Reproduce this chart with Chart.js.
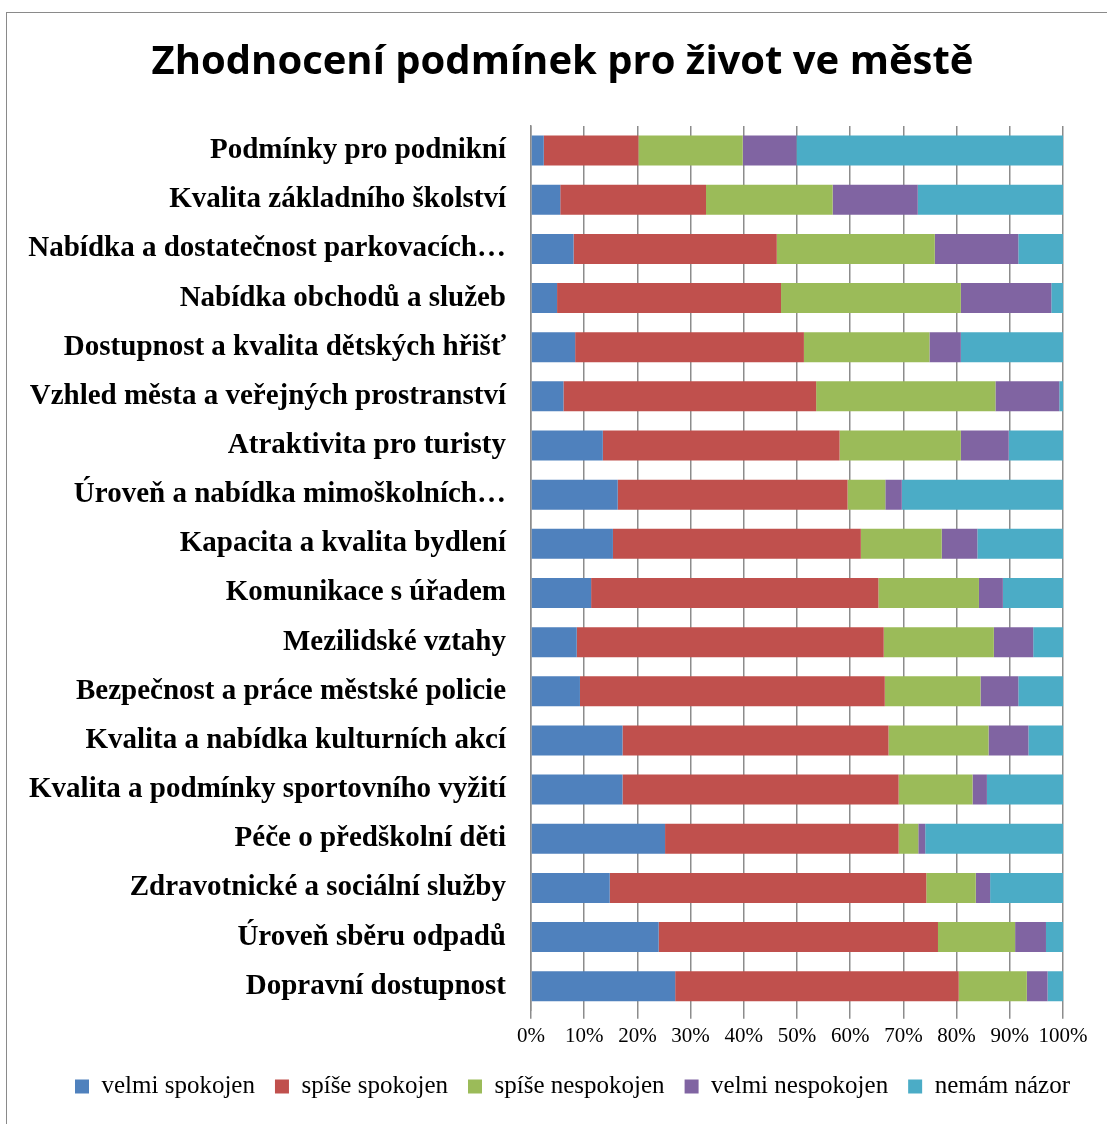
<!DOCTYPE html>
<html>
<head>
<meta charset="utf-8">
<script src="https://cdn.jsdelivr.net/npm/chart.js@4/dist/chart.umd.min.js"></script>
<style>
  html, body { margin: 0; padding: 0; background: #fff; }
  #wrap {
    position: absolute; left: 6px; top: 12px;
    width: 1100px; height: 1111px;
    border: 1px solid #8a8a8a; border-right: none; border-bottom: none;
  }
</style>
</head>
<body>
<div id="wrap"><canvas id="chart"></canvas></div>
<script>
// kategorie (shora dolů)
const categories = [
  'Podmínky pro podnikní',
  'Kvalita základního školství',
  'Nabídka a dostatečnost parkovacích…',
  'Nabídka obchodů a služeb',
  'Dostupnost a kvalita dětských hřišť',
  'Vzhled města a veřejných prostranství',
  'Atraktivita pro turisty',
  'Úroveň a nabídka mimoškolních…',
  'Kapacita a kvalita bydlení',
  'Komunikace s úřadem',
  'Mezilidské vztahy',
  'Bezpečnost a práce městské policie',
  'Kvalita a nabídka kulturních akcí',
  'Kvalita a podmínky sportovního vyžití',
  'Péče o předškolní děti',
  'Zdravotnické a sociální služby',
  'Úroveň sběru odpadů',
  'Dopravní dostupnost'
];

// podíly odpovědí v %
const velmiSpokojen    = [2.4, 5.5, 8.0, 4.9, 8.3, 6.1, 13.5, 16.3, 15.4, 11.3, 8.6, 9.2, 17.2, 17.2, 25.2, 14.8, 24.0, 27.1];
const spiseSpokojen    = [17.8, 27.4, 38.2, 42.1, 43.0, 47.5, 44.5, 43.2, 46.6, 54.0, 57.7, 57.3, 50.0, 51.9, 43.9, 59.5, 52.5, 53.3];
const spiseNespokojen  = [19.6, 23.8, 29.7, 33.8, 23.6, 33.7, 22.8, 7.1, 15.2, 18.9, 20.7, 18.0, 18.8, 13.9, 3.7, 9.3, 14.5, 12.8];
const velmiNespokojen  = [10.1, 16.0, 15.7, 17.0, 5.9, 12.0, 9.0, 3.1, 6.7, 4.5, 7.4, 7.1, 7.5, 2.7, 1.3, 2.7, 5.8, 3.9];
const nemamNazor       = [50.1, 27.3, 8.4, 2.2, 19.2, 0.7, 10.2, 30.3, 16.1, 11.3, 5.6, 8.4, 6.5, 14.3, 25.9, 13.7, 3.2, 2.9];

const xTicks = [0, 10, 20, 30, 40, 50, 60, 70, 80, 90, 100];

const serif = "'Liberation Serif', 'Times New Roman', serif";
const gridColor = '#8c8c8c';

Chart.defaults.font.family = serif;
Chart.defaults.color = '#000';

function ds(label, data, color) {
  return {
    label: label,
    data: data,
    backgroundColor: color,
    borderWidth: 0,
    barPercentage: 0.61,
    categoryPercentage: 1.0
  };
}

// titulek a legenda nejsou v Excelu vystředěné nad grafem, jen posun
function shiftBox(box, dx) {
  if (!box) return;
  box.left += dx;
  box.right += dx;
}
const nudge = {
  id: 'nudge',
  afterLayout(chart) {
    shiftBox(chart.titleBlock, 18);
    shiftBox(chart.legend, 28);
  }
};

const canvas = document.getElementById('chart');
canvas.width = 1100;
canvas.height = 1111;

new Chart(canvas.getContext('2d'), {
  type: 'bar',
  data: {
    labels: categories,
    datasets: [
      ds('velmi spokojen', velmiSpokojen, '#4F81BD'),
      ds('spíše spokojen', spiseSpokojen, '#C0504D'),
      ds('spíše nespokojen', spiseNespokojen, '#9BBB59'),
      ds('velmi nespokojen', velmiNespokojen, '#8064A2'),
      ds('nemám názor', nemamNazor, '#4BACC6')
    ]
  },
  plugins: [nudge],
  options: {
    indexAxis: 'y',
    responsive: false,
    animation: false,
    layout: { padding: { left: 19, right: 44, top: 22, bottom: 15 } },
    plugins: {
      title: {
        display: true,
        text: 'Zhodnocení podmínek pro život ve městě',
        color: '#000',
        font: { family: "'Open Sans', sans-serif", size: 40, weight: 'bold', lineHeight: 1.2 },
        padding: { top: 4, bottom: 39 }
      },
      legend: {
        position: 'bottom',
        labels: {
          color: '#000',
          font: { family: serif, size: 25 },
          boxWidth: 14,
          boxHeight: 14,
          padding: 20
        }
      },
      tooltip: { enabled: false }
    },
    scales: {
      x: {
        stacked: true,
        min: 0,
        max: 100,
        afterBuildTicks: axis => { axis.ticks = xTicks.map(v => ({ value: v })); },
        ticks: {
          color: '#000',
          font: { family: serif, size: 21 },
          callback: v => v + '%',
          maxRotation: 0,
          padding: 5
        },
        grid: { color: gridColor, lineWidth: 1.5, tickLength: 8, drawTicks: true },
        border: { display: false }
      },
      y: {
        stacked: true,
        afterFit: axis => { axis.width = 505; },
        ticks: {
          color: '#000',
          font: { family: serif, size: 29, weight: 'bold' },
          padding: 25,
          autoSkip: false
        },
        grid: { display: false, drawTicks: false },
        border: { display: true, color: gridColor, width: 1.5 }
      }
    }
  }
});
</script>
</body>
</html>
